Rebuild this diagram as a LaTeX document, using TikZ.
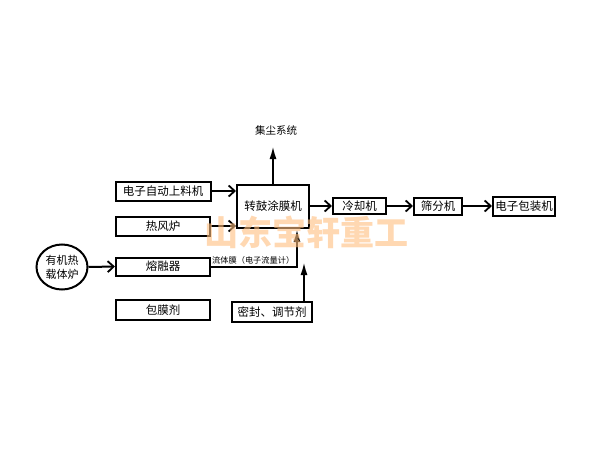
\documentclass[tikz,border=0pt]{standalone}
\usepackage{fontspec}
\newfontfamily\cjk{Noto Sans CJK SC}
\usetikzlibrary{arrows.meta,shapes.geometric}
\begin{document}
\begin{tikzpicture}[x=1pt,y=-1pt,
  box/.style={draw=black,line width=2pt,rectangle,inner sep=0pt,font=\cjk\fontsize{11.5}{12}\selectfont},
  flow/.style={line width=2pt,-{Straight Barb[length=6pt,width=11pt,line width=1.8pt]}},
  upflow/.style={line width=2pt,-{Latex[length=13pt,width=7pt]}},
  wm/.style={text=orange!50,opacity=0.6,font=\cjk\bfseries\fontsize{34}{36}\selectfont}]
\useasboundingbox (0,0) rectangle (600,450);
\fill[white] (0,0) rectangle (600,450);
% nodes
\node[box,minimum width=95pt,minimum height=19pt] (feeder) at (163,191) {电子自动上料机};
\node[box,minimum width=94pt,minimum height=19pt] (hotair) at (163,226) {热风炉};
\node[box,minimum width=94pt,minimum height=18pt] (melter) at (163,266.5) {熔融器};
\node[box,minimum width=94pt,minimum height=20pt] (agent) at (163,310) {包膜剂};
\node[box,minimum width=72pt,minimum height=43pt] (drum) at (273,206.5) {转鼓涂膜机};
\node[box,minimum width=53pt,minimum height=16pt] (cooler) at (359.5,206) {冷却机};
\node[box,minimum width=48pt,minimum height=17pt] (sieve) at (438,206) {筛分机};
\node[box,minimum width=62pt,minimum height=19pt] (packer) at (524,206) {电子包装机};
\node[box,minimum width=80pt,minimum height=20pt] (seal) at (272,312) {密封、调节剂};
\node[draw=black,line width=2pt,ellipse,minimum width=51pt,minimum height=45pt,inner sep=0pt,align=center,
  font=\cjk\fontsize{11}{14}\selectfont] (furnace) at (62,267) {有机热\\载体炉};
\node[font=\cjk\fontsize{10.5}{12}\selectfont] (dust) at (276,130) {集尘系统};
\node[font=\cjk\fontsize{8.2}{10}\selectfont,anchor=south west,inner sep=1pt] (fluid) at (211,265) {流体膜（电子流量计）};
% coordinates
\coordinate (dusttip) at (273,146);
\coordinate (corner) at (297,266.5);
\coordinate (sealtip) at (304,262);
% connectors
\draw[flow] (feeder.east) -- (drum.west |- feeder.east);
\draw[flow] (hotair.east) -- (drum.west |- hotair.east);
\draw[upflow] (drum.north -| dusttip) -- (dusttip);
\draw[flow] (drum.east |- cooler.west) -- (cooler.west);
\draw[flow] (cooler.east) -- (sieve.west);
\draw[flow] (sieve.east) -- (packer.west);
\draw[flow] (furnace.east) -- (melter.west);
\draw[upflow] (melter.east) -- (corner) -- (corner |- drum.south);
\draw[upflow] (seal.north -| sealtip) -- (sealtip);
% watermark
\node[wm] (wmark) at (306,232) {山东宝轩重工};
\end{tikzpicture}
\end{document}
